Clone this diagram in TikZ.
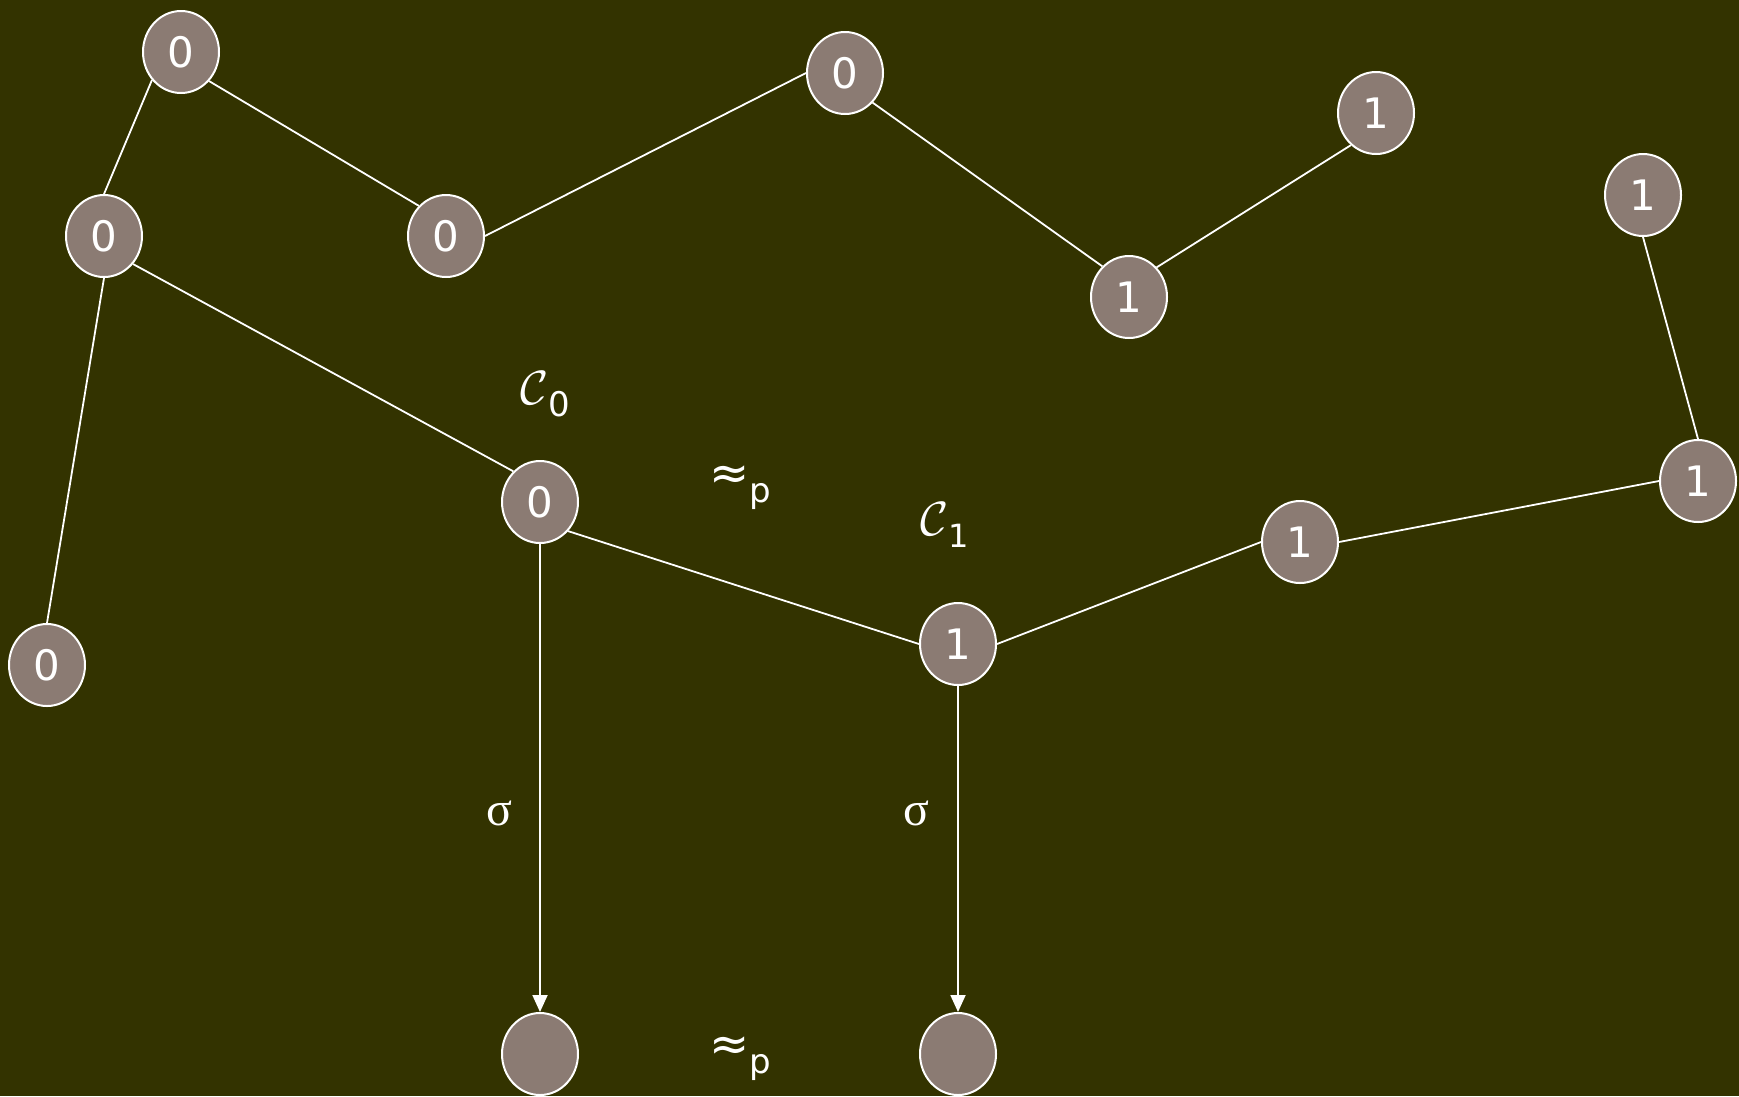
\documentclass[tikz,border=0pt]{standalone}
\usepackage{fontspec}
\setmainfont{DejaVu Sans}
\newfontfamily\sigfont{Liberation Serif}
\usetikzlibrary{shapes.geometric,arrows.meta}
\definecolor{bgcol}{RGB}{51,51,0}
\definecolor{nodecol}{RGB}{139,123,115}
\begin{document}
\begin{tikzpicture}[x=1pt,y=-1pt,
  vtx/.style={ellipse,draw=white,line width=2pt,fill=nodecol,minimum width=76pt,minimum height=82pt,inner sep=0pt,text=white,font=\fontsize{42}{48}\selectfont},
  edge/.style={draw=white,line width=1.8pt},
  arr/.style={draw=white,line width=1.8pt,-{Triangle[width=15pt,length=17pt]}},
  lbl/.style={text=white,inner sep=0pt}]
\fill[bgcol] (0,0) rectangle (1739,1096);
\useasboundingbox (0,0) rectangle (1739,1096);
\node[vtx] (A) at (181,52) {0};
\node[vtx] (B) at (104,236) {0};
\node[vtx] (C) at (446,236) {0};
\node[vtx] (D) at (845,73) {0};
\node[vtx] (E) at (1376,113) {1};
\node[vtx] (F) at (1129,297) {1};
\node[vtx] (G) at (1643,195) {1};
\node[vtx] (H) at (1698,481) {1};
\node[vtx] (I) at (1300,542) {1};
\node[vtx] (J) at (958,644) {1};
\node[vtx] (K) at (540,502) {0};
\node[vtx] (L) at (47,665) {0};
\node[vtx] (M) at (540,1054) {};
\node[vtx] (N) at (958,1054) {};
\draw[edge] (A.224) -- (B.north);
\draw[edge] (A.314) -- (C.132);
\draw[edge] (C.east) -- (D.west);
\draw[edge] (D.313) -- (F.131);
\draw[edge] (F.47) -- (E.232);
\draw[edge] (B.316) -- (K.131);
\draw[edge] (B.south) -- (L.north);
\draw[edge] (K.314) -- (J.west);
\draw[edge] (J.east) -- (I.west);
\draw[edge] (I.east) -- (H.west);
\draw[edge] (H.north) -- (G.south);
\draw[arr] (K.south) -- (M.north);
\draw[arr] (J.south) -- (N.north);
\node[lbl] (c0) at (545,394) {\scalebox{4.8}{$\mathcal{C}$}\fontsize{34}{40}\selectfont\raisebox{-12pt}{0}};
\node[lbl] (c1) at (945,525) {\scalebox{4.8}{$\mathcal{C}$}\fontsize{32}{38}\selectfont\raisebox{-12pt}{1}};
\node[lbl] (ap1) at (740,488) {\fontsize{48}{54}\selectfont ≈\fontsize{34}{40}\selectfont\raisebox{-13pt}{p}};
\node[lbl] (ap2) at (740,1059) {\fontsize{48}{54}\selectfont ≈\fontsize{34}{40}\selectfont\raisebox{-13pt}{p}};
\node[lbl] (s1) at (499,813) {\sigfont\fontsize{48}{54}\selectfont σ};
\node[lbl] (s2) at (916,813) {\sigfont\fontsize{48}{54}\selectfont σ};
\end{tikzpicture}
\end{document}
